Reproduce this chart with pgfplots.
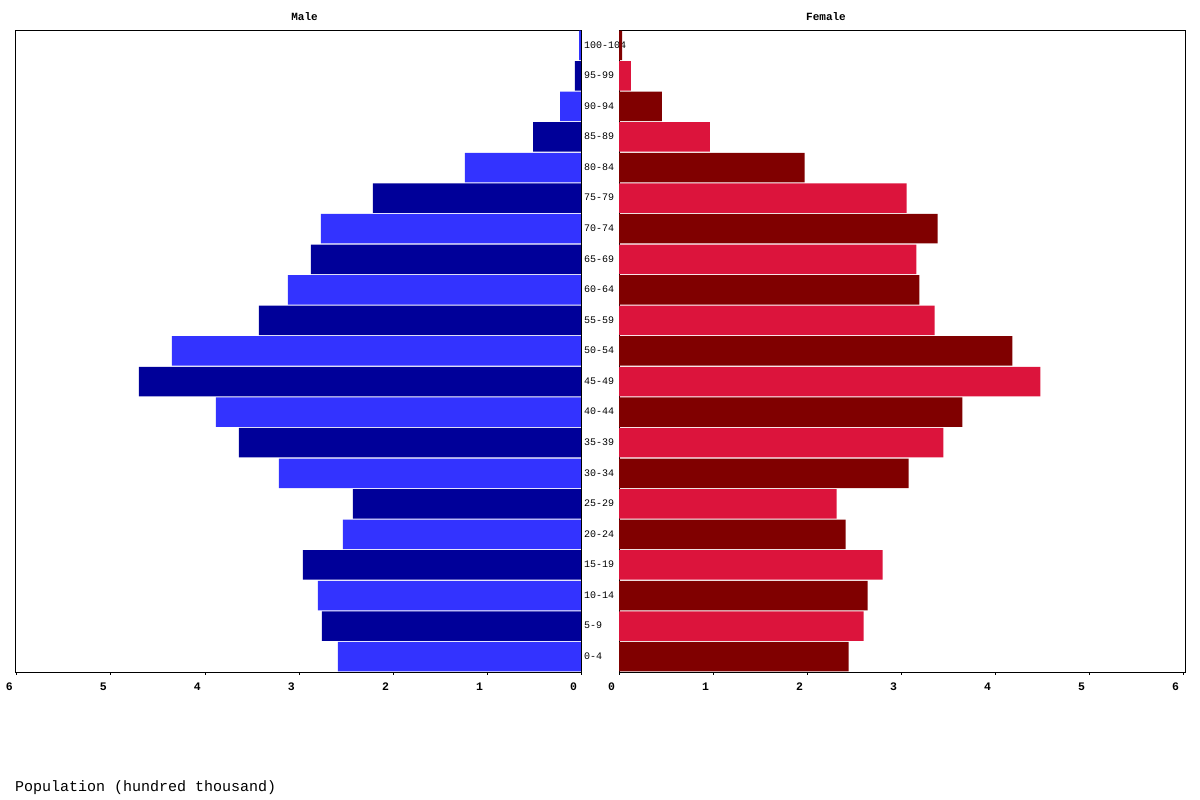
\documentclass[border=0pt]{standalone}
\usepackage{pgfplots}
\pgfplotsset{compat=1.18}
\usepackage{fontspec}
\setmainfont{Liberation Mono}

\definecolor{mlight}{HTML}{3333FF}
\definecolor{mdark}{HTML}{000099}
\definecolor{fdark}{HTML}{800000}
\definecolor{flight}{HTML}{DC143C}

\pgfplotsset{
  pyramid/.style={
    scale only axis,
    width=566pt, height=642pt,
    xbar, bar shift=0pt, bar width=0.965,
    ymin=-0.5, ymax=20.5,
    xmin=0, xmax=6.02,
    xtick={0,1,2,3,4,5,6},
    xtick pos=lower,
    tick align=outside,
    major tick length=3pt,
    ytick style={draw=none},
    axis line style={line width=0.8pt},
    xtick style={black, line width=0.8pt},
    /pgf/number format/assume math mode=true,
    xticklabel style={font=\bfseries\fontsize{11.5}{11.5}\selectfont,
      xshift=-7.5pt, yshift=-4pt},
  },
}

\begin{document}
\begin{tikzpicture}
\useasboundingbox (0,0) rectangle (1200pt,800pt);

% male
\begin{axis}[pyramid, at={(15pt,128pt)}, anchor=south west,
  x dir=reverse, ytick=\empty]
\addplot[draw=none, fill=mlight] coordinates {
  (2.585,0) (2.798,2) (2.532,4) (3.213,6) (3.883,8) (4.351,10)
  (3.117,12) (2.766,14) (1.234,16) (0.223,18) (0.021,20)};
\addplot[draw=none, fill=mdark] coordinates {
  (2.755,1) (2.957,3) (2.426,5) (3.638,7) (4.702,9)
  (3.426,11) (2.872,13) (2.213,15) (0.510,17) (0.064,19)};
\end{axis}

% female
\begin{axis}[pyramid, at={(619pt,128pt)}, anchor=south west,
  ytick={0,...,20},
  yticklabels={0-4,5-9,10-14,15-19,20-24,25-29,30-34,35-39,40-44,45-49,
    50-54,55-59,60-64,65-69,70-74,75-79,80-84,85-89,90-94,95-99,100-104},
  yticklabel style={font=\fontsize{10}{10}\selectfont, anchor=west,
    inner sep=0pt, xshift=-32pt, yshift=0.5pt}]
\addplot[draw=none, fill=fdark] coordinates {
  (2.442,0) (2.644,2) (2.411,4) (3.080,6) (3.653,8) (4.184,10)
  (3.196,12) (3.388,14) (1.975,16) (0.457,18) (0.032,20)};
\addplot[draw=none, fill=flight] coordinates {
  (2.602,1) (2.803,3) (2.315,5) (3.451,7) (4.481,9)
  (3.356,11) (3.164,13) (3.058,15) (0.966,17) (0.127,19)};
\end{axis}

\node[font=\bfseries\fontsize{11}{11}\selectfont] at (304.5pt,783pt) {Male};
\node[font=\bfseries\fontsize{11}{11}\selectfont] at (826pt,783pt) {Female};
\node[anchor=west, inner sep=0pt, font=\fontsize{15}{15}\selectfont]
  at (15pt,12pt) {Population (hundred thousand)};
\end{tikzpicture}
\end{document}
